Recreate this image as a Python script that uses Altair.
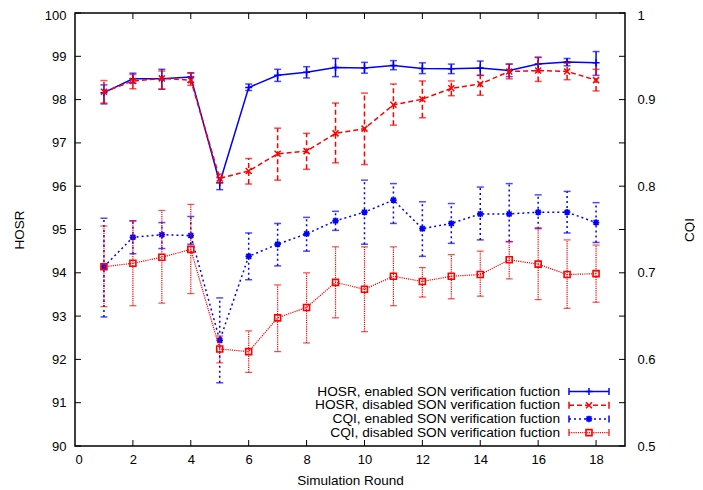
import altair as alt
import pandas as pd

rounds = list(range(1, 19))

hosr_en = [98.16, 98.48, 98.48, 98.52, 96.08, 98.28, 98.56, 98.63, 98.74, 98.73, 98.79, 98.72, 98.71, 98.73, 98.67, 98.82, 98.87, 98.85]
hosr_en_lo = [97.90, 98.38, 98.24, 98.40, 95.92, 98.21, 98.42, 98.50, 98.53, 98.61, 98.69, 98.60, 98.60, 98.56, 98.53, 98.67, 98.78, 98.56]
hosr_en_hi = [98.34, 98.61, 98.70, 98.62, 96.20, 98.36, 98.70, 98.76, 98.95, 98.86, 98.90, 98.85, 98.82, 98.89, 98.82, 98.98, 98.95, 99.11]

hosr_dis = [98.18, 98.43, 98.49, 98.45, 96.18, 96.35, 96.75, 96.81, 97.22, 97.33, 97.88, 98.01, 98.26, 98.36, 98.65, 98.67, 98.65, 98.45]
hosr_dis_lo = [97.92, 98.25, 98.24, 98.33, 96.08, 96.05, 96.14, 96.39, 96.54, 96.50, 97.41, 97.58, 98.09, 98.10, 98.48, 98.42, 98.46, 98.20]
hosr_dis_hi = [98.44, 98.58, 98.66, 98.61, 96.28, 96.64, 97.34, 97.22, 97.92, 98.15, 98.36, 98.43, 98.43, 98.56, 98.82, 98.97, 98.84, 98.70]

cqi_en = [0.707, 0.741, 0.744, 0.743, 0.622, 0.719, 0.733, 0.745, 0.760, 0.770, 0.784, 0.751, 0.757, 0.768, 0.768, 0.770, 0.770, 0.758]
cqi_en_lo = [0.649, 0.722, 0.728, 0.733, 0.573, 0.692, 0.708, 0.725, 0.749, 0.733, 0.757, 0.719, 0.734, 0.738, 0.736, 0.751, 0.746, 0.735]
cqi_en_hi = [0.763, 0.760, 0.758, 0.765, 0.671, 0.746, 0.757, 0.764, 0.771, 0.807, 0.803, 0.782, 0.780, 0.799, 0.803, 0.790, 0.794, 0.781]

cqi_dis = [0.707, 0.711, 0.718, 0.727, 0.612, 0.609, 0.648, 0.660, 0.689, 0.681, 0.696, 0.690, 0.696, 0.698, 0.715, 0.710, 0.698, 0.699]
cqi_dis_lo = [0.661, 0.662, 0.665, 0.676, 0.596, 0.585, 0.609, 0.619, 0.648, 0.632, 0.662, 0.672, 0.670, 0.673, 0.693, 0.669, 0.659, 0.666]
cqi_dis_hi = [0.754, 0.760, 0.772, 0.779, 0.627, 0.633, 0.686, 0.700, 0.730, 0.730, 0.730, 0.706, 0.721, 0.725, 0.736, 0.752, 0.738, 0.732]

series_names = [
    "HOSR, enabled SON verification fuction",
    "HOSR, disabled SON verification fuction",
    "CQI, enabled SON verification fuction",
    "CQI, disabled SON verification fuction",
]

x_tick_values = list(range(0, 19, 2))
x_inner_ticks = list(range(2, 19, 2))
hosr_tick_values = list(range(90, 101))
cqi_label_values = [0.5, 0.6, 0.7, 0.8, 0.9, 1.0]

W, H = 550, 433
FONT = "Liberation Sans"
BLUE = "#0000ff"
RED = "#ff0000"

PLUS = "M-1,0L1,0M0,-1L0,1"
CROSS = "M-1,-1L1,1M-1,1L1,-1"
STAR = "M-1,0L1,0M0,-1L0,1M-0.75,-0.75L0.75,0.75M-0.75,0.75L0.75,-0.75"
SQUARE = "M-1,-1L1,-1L1,1L-1,1Z"

x_scale = alt.Scale(domain=[0, 19], nice=False, zero=False)
hosr_scale = alt.Scale(domain=[90, 100], nice=False, zero=False)
cqi_scale = alt.Scale(domain=[0.5, 1.0], nice=False, zero=False)

x_axis = alt.Axis(values=x_tick_values, ticks=False, labelPadding=7, title="Simulation Round",
                  titleY=34, titleBaseline="middle", titleFontWeight="normal", format="d")
hosr_axis = alt.Axis(values=hosr_tick_values, ticks=False, labelPadding=9, title="HOSR",
                     labelOffset={"condition": {"test": "datum.value >= 100", "value": 2}, "value": 0},
                     titleX=-56, titleY=H / 2, titleAngle=-90, titleBaseline="middle", titleAlign="center",
                     titleFontWeight="normal", format="d")
cqi_axis = alt.Axis(values=cqi_label_values, ticks=False, labelPadding=12, title="CQI", orient="right",
                    labelOffset={"condition": {"test": "datum.value >= 1", "value": 2}, "value": 0},
                    titleX=64, titleY=H / 2, titleAngle=-90, titleBaseline="middle", titleAlign="center",
                    titleFontWeight="normal", format="~g")


def series(yv, lo, hi, yscale, yaxis, color, dash, width, shape, msize, mwidth):
    df = pd.DataFrame({"x": rounds, "y": yv, "lo": lo, "hi": hi})
    base = alt.Chart(df)
    X = alt.X("x:Q", scale=x_scale, axis=x_axis)
    line_kw = dict(color=color, strokeWidth=width)
    if dash:
        line_kw["strokeDash"] = dash
    err = base.mark_rule(**line_kw).encode(
        x=X, y=alt.Y("lo:Q", scale=yscale, axis=yaxis), y2="hi:Q")
    cap_lo = base.mark_tick(orient="horizontal", size=7, thickness=width, color=color).encode(
        x=X, y=alt.Y("lo:Q", scale=yscale, axis=yaxis))
    cap_hi = base.mark_tick(orient="horizontal", size=7, thickness=width, color=color).encode(
        x=X, y=alt.Y("hi:Q", scale=yscale, axis=yaxis))
    line = base.mark_line(**line_kw).encode(
        x=X, y=alt.Y("y:Q", scale=yscale, axis=yaxis))
    pts = base.mark_point(shape=shape, size=msize, filled=False, color=color, strokeWidth=mwidth, opacity=1).encode(
        x=X, y=alt.Y("y:Q", scale=yscale, axis=yaxis))
    return [err, cap_lo, cap_hi, line, pts]


# inward ticks drawn from the tick-value arrays
ydf = pd.DataFrame({"t": hosr_tick_values})
xdf = pd.DataFrame({"t": x_inner_ticks})
tick_style = dict(color="black", strokeWidth=1)
left_ticks = alt.Chart(ydf).mark_rule(**tick_style).encode(
    y=alt.Y("t:Q", scale=hosr_scale, axis=hosr_axis), x=alt.value(0), x2=alt.value(6))
right_ticks = alt.Chart(ydf).mark_rule(**tick_style).encode(
    y=alt.Y("t:Q", scale=hosr_scale, axis=hosr_axis), x=alt.value(W - 6), x2=alt.value(W))
bottom_ticks = alt.Chart(xdf).mark_rule(**tick_style).encode(
    x=alt.X("t:Q", scale=x_scale, axis=x_axis), y=alt.value(H - 6), y2=alt.value(H))
top_ticks = alt.Chart(xdf).mark_rule(**tick_style).encode(
    x=alt.X("t:Q", scale=x_scale, axis=x_axis), y=alt.value(0), y2=alt.value(6))

styles = [
    (BLUE, None, 1.5, PLUS, 49, 1.5),
    (RED, [5, 3], 1.5, CROSS, 36, 1.5),
    (BLUE, [2, 3], 1.5, STAR, 42, 1.7),
    (RED, [1.2, 1], 1.2, SQUARE, 36, 1.6),
]

left_layers = [left_ticks, right_ticks, bottom_ticks, top_ticks]
left_layers += series(hosr_en, hosr_en_lo, hosr_en_hi, hosr_scale, hosr_axis, *styles[0])
left_layers += series(hosr_dis, hosr_dis_lo, hosr_dis_hi, hosr_scale, hosr_axis, *styles[1])
right_layers = []
right_layers += series(cqi_en, cqi_en_lo, cqi_en_hi, cqi_scale, cqi_axis, *styles[2])
right_layers += series(cqi_dis, cqi_dis_lo, cqi_dis_hi, cqi_scale, cqi_axis, *styles[3])

# key (legend) in the lower right corner of the plot
one = pd.DataFrame({"a": [0]})
key_layers = []
text_right = 485
sx0, sx1, smid = 494, 534, 514
row_y = [378.5, 392.2, 405.9, 419.6]
for i, name in enumerate(series_names):
    color, dash, width, shape, msize, mwidth = styles[i]
    yy = row_y[i]
    kw = dict(color=color, strokeWidth=width)
    if dash:
        kw["strokeDash"] = dash
    key_layers.append(alt.Chart(one).mark_text(align="right", baseline="middle", font=FONT, fontSize=13.7,
                                               color="black").encode(
        x=alt.value(text_right), y=alt.value(yy), text=alt.value(name)))
    key_layers.append(alt.Chart(one).mark_rule(**kw).encode(
        x=alt.value(sx0), x2=alt.value(sx1), y=alt.value(yy)))
    for cx in (sx0, sx1):
        key_layers.append(alt.Chart(one).mark_rule(color=color, strokeWidth=width).encode(
            x=alt.value(cx), y=alt.value(yy - 3.5), y2=alt.value(yy + 3.5)))
    key_layers.append(alt.Chart(one).mark_point(shape=shape, size=msize, filled=False, color=color,
                                                strokeWidth=mwidth, opacity=1).encode(
        x=alt.value(smid), y=alt.value(yy)))

left = alt.layer(*left_layers)
right = alt.layer(*right_layers)
keys = alt.layer(*key_layers)

chart = alt.layer(left, right, keys).resolve_scale(y="independent").properties(
    width=W, height=H,
    autosize=alt.AutoSizeParams(type="none"),
    padding={"left": 67, "top": 5, "right": 70, "bottom": 44},
).configure_view(stroke="black", strokeWidth=1.5).configure_axis(
    grid=False, domain=False, labelFont=FONT, titleFont=FONT, labelFontSize=13, titleFontSize=13.5,
    labelColor="black", titleColor="black",
)

chart.save("out.html", embed_options={"renderer": "svg", "actions": False})
